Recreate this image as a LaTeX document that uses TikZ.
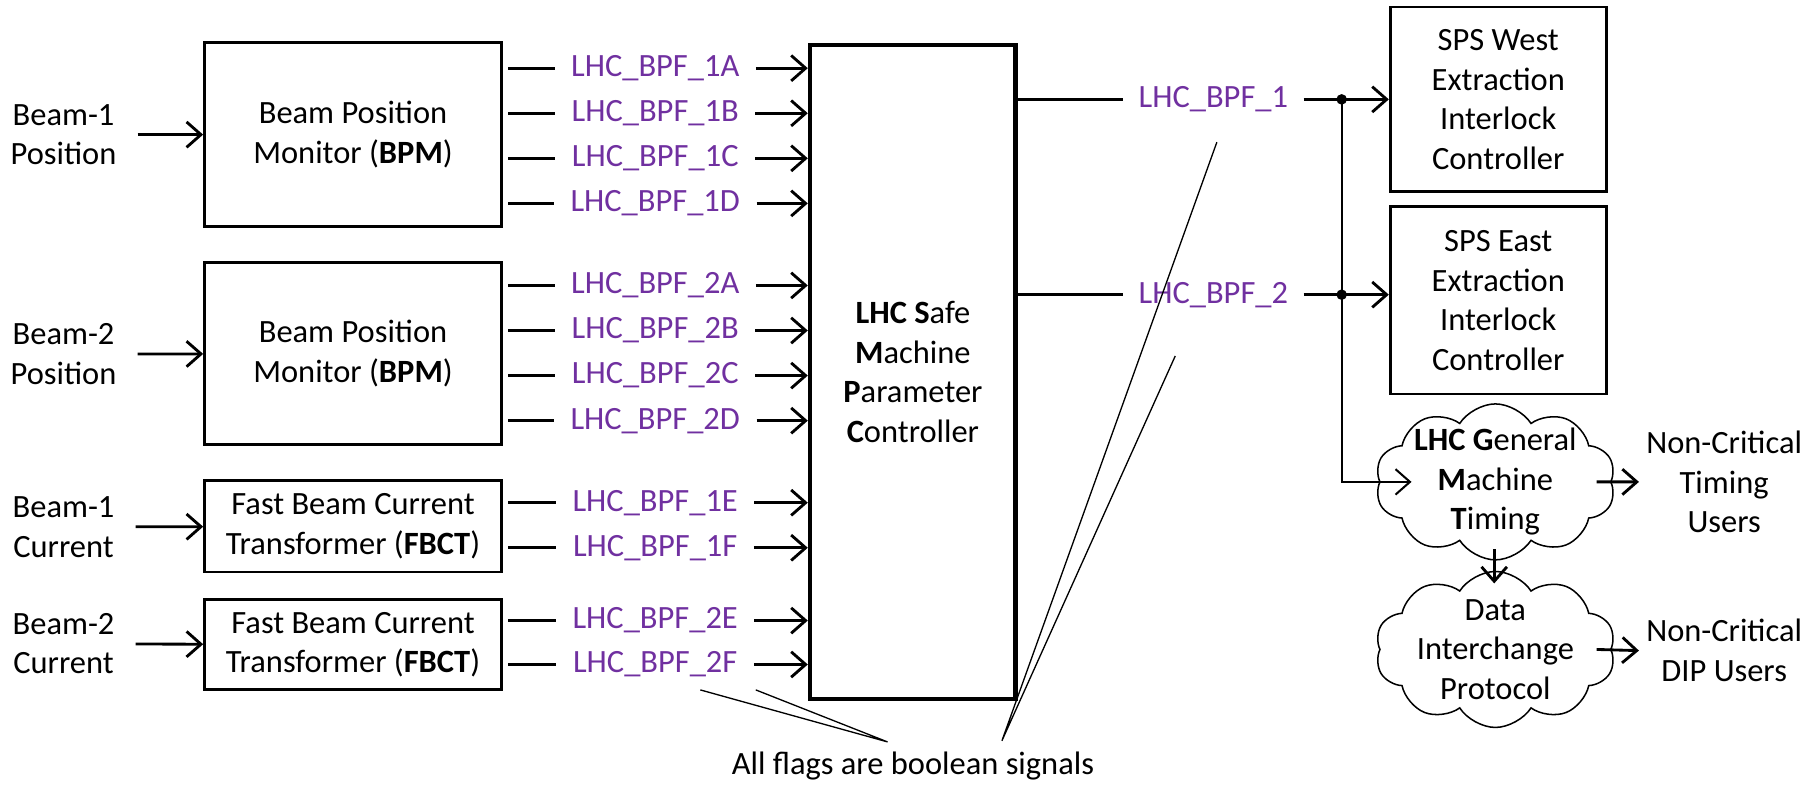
\documentclass[tikz,border=0pt]{standalone}
\usepackage{fontspec}
\setmainfont{Carlito}
\usepackage{xcolor}
\definecolor{flag}{RGB}{112, 48, 160}
\usetikzlibrary{calc,arrows.meta,shapes.symbols}

\begin{document}
\begin{tikzpicture}[x=0.02cm, y=-0.02cm, >={Straight Barb[length=2.5mm,width=4.4mm]},
    font=\fontsize{16}{19.5}\selectfont,
    box/.style={draw, line width=1.4pt, align=center, inner sep=0pt},
    sig/.style={text=flag, inner xsep=0.28cm, inner ysep=0pt},
    link/.style={line width=1.4pt},
    thinlink/.style={line width=1pt},
    note/.style={align=center, inner sep=0.12cm},
    puff/.style={draw, cloud, cloud puffs=10, cloud puff arc=115, cloud ignores aspect,
        line width=0.75pt, align=center, inner xsep=0pt, inner ysep=-7pt}]
    \useasboundingbox (0,0) rectangle (1568,679);

    % Inputs
    \node[note] (b1pos) at (55,116.5) {Beam-1\\Position};
    \node[note] (b2pos) at (55,306.5) {Beam-2\\Position};
    \node[note] (b1cur) at (55,456) {Beam-1\\Current};
    \node[note] (b2cur) at (55,557) {Beam-2\\Current};

    \node[box, minimum width=5.14cm, minimum height=3.18cm] (bpm1) at (305.5,116.5) {Beam Position\\Monitor (\textbf{BPM})};
    \node[box, minimum width=5.14cm, minimum height=3.16cm] (bpm2) at (305.5,306) {Beam Position\\Monitor (\textbf{BPM})};
    \node[box, minimum width=5.14cm, minimum height=1.58cm] (fbct1) at (305.5,455.5) {Fast Beam Current\\Transformer (\textbf{FBCT})};
    \node[box, minimum width=5.14cm, minimum height=1.56cm] (fbct2) at (305.5,558) {Fast Beam Current\\Transformer (\textbf{FBCT})};

    \draw[link,->, shorten <=0.24cm] (b1pos) -- (bpm1);
    \draw[link,->, shorten <=0.24cm] (b2pos) -- (bpm2);
    \draw[link,->, shorten <=0.24cm] (b1cur) -- (fbct1);
    \draw[link,->, shorten <=0.24cm] (b2cur) -- (fbct2);

    \node[box, line width=2.3pt, minimum width=3.56cm, minimum height=11.32cm] (smpc) at (790,322)
        {\textbf{LHC S}afe\\\textbf{M}achine\\\textbf{P}arameter\\\textbf{C}ontroller};

    % Beam permit flags
    \coordinate (tapL) at (440,0);
    \foreach \n/\y in {1A/59,1B/98,1C/137,1D/176,2A/247,2B/286,2C/325,2D/364,1E/435,1F/474,2E/537,2F/575} {
        \node[sig] (s\n) at (567,\y) {LHC\_BPF\_\n};
        \draw[link] (tapL |- s\n) -- (s\n.west);
        \draw[link,->] (s\n.east) -- (smpc.west |- s\n);
    }

    % Outputs
    \node[box, minimum width=3.74cm, minimum height=3.2cm] (west) at (1296.5,86) {SPS West\\Extraction\\Interlock\\Controller};
    \node[box, minimum width=3.74cm, minimum height=3.24cm] (east) at (1296.5,260) {SPS East\\Extraction\\Interlock\\Controller};

    \node[sig, inner xsep=0.26cm] (o1) at (1050,86) {LHC\_BPF\_1};
    \node[sig, inner xsep=0.26cm] (o2) at (1050,255) {LHC\_BPF\_2};
    \draw[link] (smpc.east |- o1) -- (o1.west);
    \draw[link] (smpc.east |- o2) -- (o2.west);
    \draw[link,->] (o1.east) -- (west.west |- o1);
    \draw[link,->] (o2.east) -- (east.west |- o2);

    \coordinate (j1) at (1161,86);
    \coordinate (j2) at (1161,255);
    \fill (j1) circle[radius=2.6pt];
    \fill (j2) circle[radius=2.6pt];

    \node[puff, minimum width=4.16cm, minimum height=2.7cm] (gmt) at (1294,417)
        {\textbf{LHC G}eneral\\\textbf{M}achine\\\textbf{T}iming};
    \node[puff, minimum width=4.16cm, minimum height=2.7cm] (dip) at (1294,562)
        {Data\\Interchange\\Protocol};
    \node[note] (nct) at (1492,417) {Non-Critical\\Timing\\Users};
    \node[note] (ndip) at (1492,563) {Non-Critical\\DIP Users};

    \draw[thinlink,->] (j1) |- ($(gmt.west)+(28,0)$);
    \draw[link,->] ($(gmt.east)+(-13,0)$) -- (nct.west);
    \draw[link,->] ($(dip.east)+(-13,0)$ |- ndip) -- (ndip.west);
    \draw[link,->] ($(gmt.south)+(-1,-10)$) -- ($(dip.north)+(-1,11)$);

    % Callout
    \node[note] (flags) at (790,663) {All flags are boolean signals};
    \coordinate (fa) at (768,642);
    \coordinate (fb) at (867,641);
    \draw[line width=0.65pt] (606,597) -- (fa) -- (654,597);
    \draw[line width=0.65pt] (1053,123) -- (fb) -- (1017,308);
\end{tikzpicture}
\end{document}
